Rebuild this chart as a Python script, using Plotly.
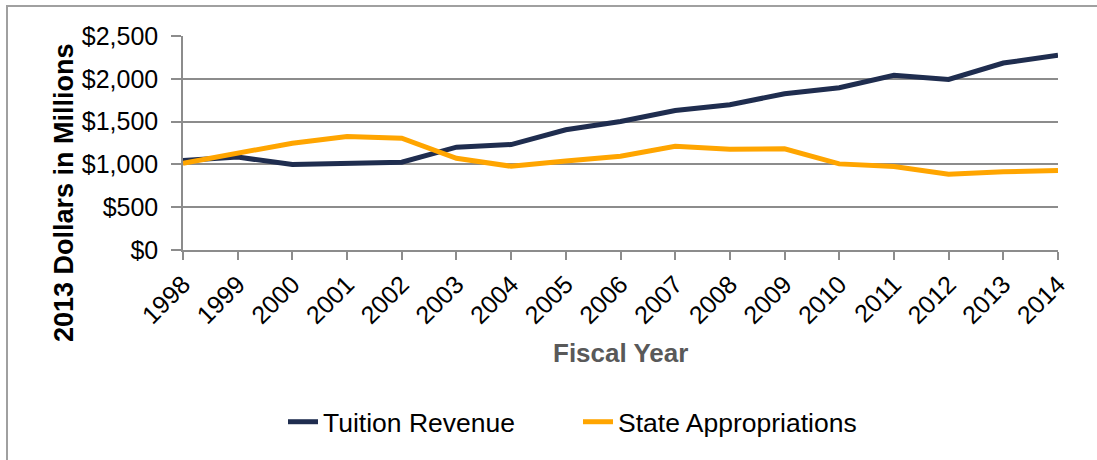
import plotly.graph_objects as go

years = [str(y) for y in range(1998, 2015)]
tuition = [1045, 1085, 998, 1018, 1025, 1201, 1232, 1404, 1502, 1630, 1697, 1826, 1896, 2040, 1993, 2184, 2274]
state = [1014, 1124, 1248, 1326, 1306, 1072, 978, 1041, 1096, 1213, 1178, 1182, 1006, 975, 885, 913, 928]
y_ticks = [0, 500, 1000, 1500, 2000, 2500]
y_labels = ["$0", "$500", "$1,000", "$1,500", "$2,000", "$2,500"]

FONT = "Liberation Sans, Arial, sans-serif"
GRID = "#8c8c8c"

fig = go.Figure()
fig.add_trace(go.Scatter(x=years, y=tuition, mode="lines", name="Tuition Revenue",
                         line=dict(color="#1f2d4f", width=5)))
fig.add_trace(go.Scatter(x=years, y=state, mode="lines", name="State Appropriations",
                         line=dict(color="#ffa500", width=5)))

L, R, T, B = 183, 39, 36, 210
W, H = 1097, 460
pw, ph = W - L - R, H - T - B

def px(x):
    return (x - L) / pw

def py(y):
    return (H - B - y) / ph

fig.update_layout(
    width=W, height=H,
    margin=dict(l=L, r=R, t=T, b=B, autoexpand=False),
    paper_bgcolor="white", plot_bgcolor="white",
    font=dict(family=FONT, size=25, color="black"),
    showlegend=True,
    legend=dict(orientation="h", x=px(283), y=py(422), xanchor="left", yanchor="middle",
                font=dict(size=26.5, color="black"), entrywidth=250, entrywidthmode="pixels",
                tracegroupgap=0),
    xaxis=dict(type="category", range=[0, len(years) - 1], tickangle=-45,
               showline=True, linecolor=GRID, linewidth=1.5,
               ticks="outside", ticklen=8, tickcolor=GRID, tickwidth=1.5,
               tickmode="array", tickvals=years, ticktext=years,
               showgrid=False, zeroline=False,
               tickfont=dict(size=25, color="black"), automargin=False),
    yaxis=dict(range=[0, 2500], tickvals=y_ticks, ticktext=y_labels,
               showgrid=True, gridcolor=GRID, gridwidth=1.5,
               showline=True, linecolor=GRID, linewidth=1.5,
               ticks="outside", ticklen=10, tickcolor=GRID, tickwidth=1.5,
               ticklabelstandoff=8,
               zeroline=False, tickfont=dict(size=25, color="black"), automargin=False),
    annotations=[
        dict(text="<b>2013 Dollars in Millions</b>", textangle=-90, x=px(64), y=py(192),
             xref="paper", yref="paper", showarrow=False, xanchor="center", yanchor="middle",
             font=dict(size=27, color="black")),
        dict(text="<b>Fiscal Year</b>", x=px(620), y=py(353), xref="paper", yref="paper",
             showarrow=False, xanchor="center", yanchor="middle",
             font=dict(size=26, color="#595959")),
    ],
    shapes=[
        dict(type="line", xref="paper", yref="paper", x0=px(7), x1=px(7), y0=py(470), y1=py(6),
             line=dict(color="#a0a0a0", width=2)),
        dict(type="line", xref="paper", yref="paper", x0=px(6), x1=px(1110), y0=py(6), y1=py(6),
             line=dict(color="#a0a0a0", width=2)),
    ],
)

fig.write_html("out.html")
